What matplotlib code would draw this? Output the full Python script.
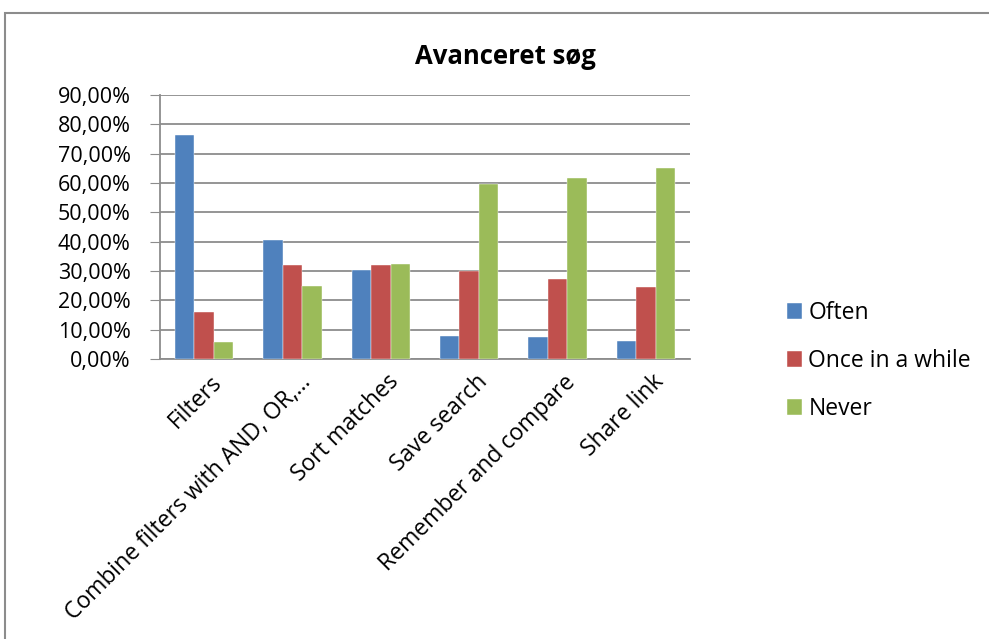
import numpy as np
import matplotlib.pyplot as plt
import matplotlib.transforms as mtransforms
from matplotlib.patches import Rectangle
from matplotlib.ticker import FuncFormatter

categories = ["Filters", "Combine filters with AND, OR,\u2026", "Sort matches",
              "Save search", "Remember and compare", "Share link"]
often = [0.765, 0.405, 0.303, 0.078, 0.075, 0.060]
once_in_a_while = [0.160, 0.320, 0.320, 0.300, 0.273, 0.247]
never = [0.058, 0.250, 0.325, 0.598, 0.617, 0.651]
series_names = ["Often", "Once in a while", "Never"]
colors = ["#4F81BD", "#C0504D", "#9BBB59"]

plt.rcParams['font.family'] = ['Open Sans', 'DejaVu Sans']

fig = plt.figure(figsize=(9.89, 6.39), dpi=100)
# outer chart border
fig.patches.append(Rectangle((5 / 989, -0.1), 1.2, 1 - 13 / 639 + 0.1,
                             transform=fig.transFigure, fill=False,
                             edgecolor="#8c8c8c", linewidth=1.5))

ax = fig.add_axes([160 / 989, 1 - 359 / 639, 530 / 989, 264 / 639])
x = np.arange(len(categories))
w = 0.22
for i, (vals, name, c) in enumerate(zip([often, once_in_a_while, never], series_names, colors)):
    ax.bar(x + (i - 1) * w, vals, w, color=c, label=name, zorder=3,
           edgecolor="white", linewidth=0.3)

ax.set_xlim(-0.5, len(categories) - 0.5)
ax.set_ylim(0, 0.9)
ax.set_yticks(np.arange(0, 0.91, 0.1))
ax.yaxis.set_major_formatter(FuncFormatter(lambda v, p: f"{v * 100:.2f}%".replace(".", ",")))
ax.grid(axis="y", color="#8c8c8c", linewidth=1.3, zorder=0)
for s in ["top", "right"]:
    ax.spines[s].set_visible(False)
for s in ["left", "bottom"]:
    ax.spines[s].set_color("#8c8c8c")
    ax.spines[s].set_linewidth(1.3)
ax.tick_params(axis="y", labelsize=15.5, length=7, color="#8c8c8c", pad=14)
ax.tick_params(axis="x", length=0, pad=8)
ax.set_xticks(x)
ax.set_xticklabels(categories, rotation=45, ha="right", rotation_mode="anchor", fontsize=16.5)
shift = mtransforms.ScaledTranslation(6 / 100, 0, fig.dpi_scale_trans)
for lab in ax.get_xticklabels():
    lab.set_transform(lab.get_transform() + shift)

fig.text(505 / 989, 1 - 57 / 639, "Avanceret s\u00f8g", ha="center", va="center",
         fontsize=18.5, fontweight="bold")

fig.legend(loc="center left", bbox_to_anchor=(766 / 989, 1 - 361 / 639),
           frameon=False, fontsize=16.5, handlelength=0.65, handleheight=0.65,
           handletextpad=0.3, labelspacing=1.05)

fig.savefig("out.png", dpi=100)
